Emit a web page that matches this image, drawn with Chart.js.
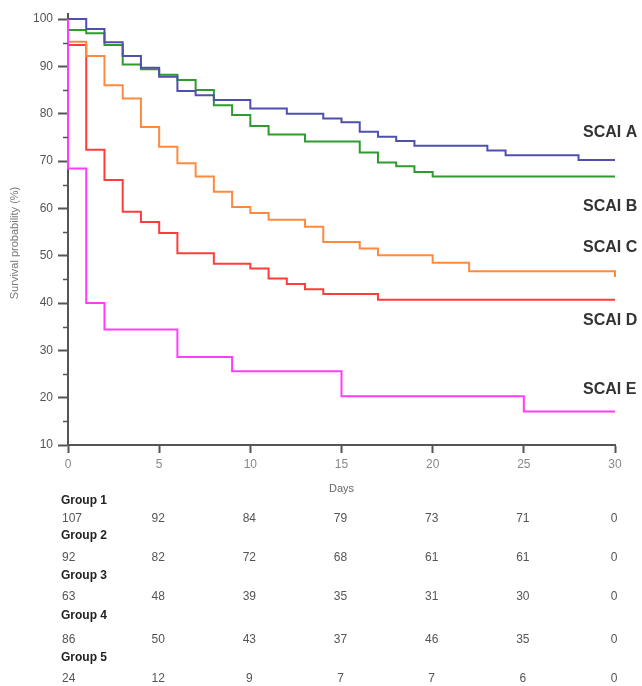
<!DOCTYPE html>
<html>
<head>
<meta charset="utf-8">
<script src="https://cdn.jsdelivr.net/npm/chart.js@4"></script>
<style>
  body { margin: 0; background: #fff; }
</style>
</head>
<body>
<canvas id="km" width="642" height="686"></canvas>
<script>
// Kaplan-Meier steps (day, survival %)
const daysA = [0, 1, 2, 3, 4, 5, 6, 7, 8, 10, 12, 14, 15, 16, 17, 18, 19, 23, 24, 28, 30];
const survA = [100, 97.9, 95.1, 92.2, 89.7, 87.8, 84.8, 83.9, 82.9, 81.1, 80.0, 79.0, 78.2, 76.2, 75.1, 74.2, 73.2, 72.2, 71.2, 70.2, 70.2];

const daysB = [0, 0, 1, 2, 3, 4, 5, 6, 7, 8, 9, 10, 11, 13, 16, 17, 18, 19, 20, 30];
const survB = [100, 97.7, 97.0, 94.5, 90.4, 89.4, 88.2, 87.1, 85.0, 81.8, 79.7, 77.4, 75.6, 74.1, 71.8, 69.7, 68.9, 67.7, 66.7, 66.7];

const daysC = [0, 0, 1, 2, 3, 4, 5, 6, 7, 8, 9, 10, 11, 13, 14, 16, 17, 20, 22, 30, 30];
const survC = [100, 95.2, 92.2, 86.0, 83.2, 77.2, 73.0, 69.5, 66.7, 63.5, 60.3, 59.0, 57.6, 56.1, 52.9, 51.5, 50.1, 48.5, 46.7, 46.7, 45.5];

const daysD = [0, 0, 1, 2, 3, 4, 5, 6, 8, 10, 11, 12, 13, 14, 17, 30];
const survD = [100, 94.5, 72.4, 66.0, 59.3, 57.1, 54.8, 50.5, 48.3, 47.3, 45.2, 44.0, 42.9, 41.9, 40.7, 40.7];

const daysE = [0, 0, 1, 2, 6, 9, 15, 25, 30];
const survE = [100, 68.4, 40.0, 34.4, 28.6, 25.6, 20.3, 17.1, 17.1];

const curveNames = ["SCAI A", "SCAI B", "SCAI C", "SCAI D", "SCAI E"];

// numbers at risk
const riskDays = [0, 5, 10, 15, 20, 25, 30];
const groupNames = ["Group 1", "Group 2", "Group 3", "Group 4", "Group 5"];
const atRisk1 = [107, 92, 84, 79, 73, 71, 0];
const atRisk2 = [92, 82, 72, 68, 61, 61, 0];
const atRisk3 = [63, 48, 39, 35, 31, 30, 0];
const atRisk4 = [86, 50, 43, 37, 46, 35, 0];
const atRisk5 = [24, 12, 9, 7, 7, 6, 0];

const FONT = "'Liberation Sans', Arial, sans-serif";

function pts(days, surv) {
  return days.map((d, i) => ({ x: d, y: surv[i] }));
}

function line(label, days, surv, color, order) {
  return {
    label: label,
    data: pts(days, surv),
    borderColor: color,
    borderWidth: 2,
    stepped: true,
    pointRadius: 0,
    fill: false,
    clip: false,
    order: order
  };
}

const extras = {
  id: "extras",
  afterDraw(chart) {
    const ctx = chart.ctx;
    const x = chart.scales.x;
    const y = chart.scales.y;
    const area = chart.chartArea;
    ctx.save();

    // minor ticks on the y axis
    ctx.strokeStyle = "#555";
    ctx.lineWidth = 1.5;
    for (let v = 15; v < 100; v += 10) {
      const py = Math.round(y.getPixelForValue(v)) + 0.5;
      ctx.beginPath();
      ctx.moveTo(area.left - 5, py);
      ctx.lineTo(area.left, py);
      ctx.stroke();
    }
    // axis stub above 100
    ctx.lineWidth = 2;
    ctx.beginPath();
    ctx.moveTo(area.left, area.top - 6);
    ctx.lineTo(area.left, area.top);
    ctx.stroke();

    // y title
    ctx.fillStyle = "#777";
    ctx.font = "11px " + FONT;
    ctx.textAlign = "center";
    ctx.textBaseline = "middle";
    ctx.save();
    ctx.translate(15, 243);
    ctx.rotate(-Math.PI / 2);
    ctx.fillText("Survival probability (%)", 0, 0);
    ctx.restore();

    // curve labels
    const labelY = [133, 207, 248, 321, 390];
    ctx.fillStyle = "#333";
    ctx.font = "bold 16px " + FONT;
    ctx.textAlign = "left";
    curveNames.forEach((n, i) => ctx.fillText(n, 583, labelY[i]));

    // numbers at risk table
    const rows = [atRisk1, atRisk2, atRisk3, atRisk4, atRisk5];
    const groupY = [501, 536, 576, 616, 658];
    const rowY = [519, 558, 597, 640, 679];
    rows.forEach((row, r) => {
      ctx.fillStyle = "#222";
      ctx.font = "bold 12px " + FONT;
      ctx.textAlign = "left";
      ctx.fillText(groupNames[r], 61, groupY[r]);
      ctx.fillStyle = "#555";
      ctx.font = "12px " + FONT;
      row.forEach((n, c) => {
        const px = x.getPixelForValue(riskDays[c]);
        if (c === 0) {
          ctx.textAlign = "left";
          ctx.fillText(String(n), px - 6, rowY[r]);
        } else {
          ctx.textAlign = "center";
          ctx.fillText(String(n), px - 1, rowY[r]);
        }
      });
    });
    ctx.restore();
  }
};

new Chart(document.getElementById("km"), {
  type: "line",
  data: {
    datasets: [
      line(curveNames[0], daysA, survA, "#4f4fb0", 2),
      line(curveNames[1], daysB, survB, "#2f9a2f", 3),
      line(curveNames[2], daysC, survC, "#ff8a3d", 4),
      line(curveNames[3], daysD, survD, "#ff3c3c", 5),
      line(curveNames[4], daysE, survE, "#ff3cff", 1)
    ]
  },
  options: {
    responsive: false,
    animation: false,
    layout: { padding: { left: 0, top: 19, right: 27, bottom: 186 } },
    plugins: {
      legend: { display: false },
      tooltip: { enabled: false }
    },
    scales: {
      x: {
        type: "linear",
        min: 0,
        max: 30,
        ticks: {
          stepSize: 5,
          color: "#888",
          font: { family: FONT, size: 12 },
          padding: 4
        },
        grid: {
          drawOnChartArea: false,
          drawTicks: true,
          tickLength: 8,
          tickWidth: 2,
          tickColor: "#555"
        },
        border: { display: true, color: "#555", width: 2 },
        title: {
          display: true,
          text: "Days",
          color: "#666",
          font: { family: FONT, size: 11 },
          padding: { top: 0, bottom: 4 }
        },
        afterFit(scale) { scale.height = 55; }
      },
      y: {
        min: 10,
        max: 100,
        ticks: {
          stepSize: 10,
          color: "#555",
          font: { family: FONT, size: 12 },
          padding: 5
        },
        grid: {
          drawOnChartArea: false,
          drawTicks: true,
          tickLength: 10,
          tickWidth: 2,
          tickColor: "#555"
        },
        border: { display: true, color: "#555", width: 2 },
        afterFit(scale) { scale.width = 68; }
      }
    }
  },
  plugins: [extras]
});
</script>
</body>
</html>
